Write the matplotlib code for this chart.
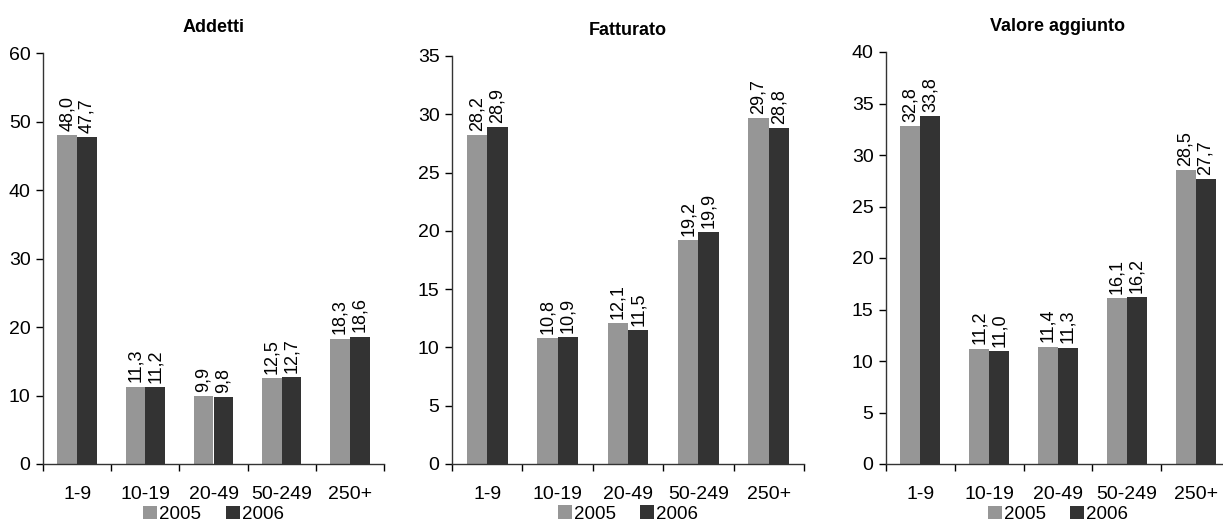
import numpy as np
import matplotlib.pyplot as plt

plt.rcParams['font.family'] = ['Liberation Sans', 'DejaVu Sans']

classi = ["1-9", "10-19", "20-49", "50-249", "250+"]
anni = ["2005", "2006"]

addetti_2005 = [48.0, 11.3, 9.9, 12.5, 18.3]
addetti_2006 = [47.7, 11.2, 9.8, 12.7, 18.6]
fatturato_2005 = [28.2, 10.8, 12.1, 19.2, 29.7]
fatturato_2006 = [28.9, 10.9, 11.5, 19.9, 28.8]
valore_2005 = [32.8, 11.2, 11.4, 16.1, 28.5]
valore_2006 = [33.8, 11.0, 11.3, 16.2, 27.7]

titoli = ["Addetti", "Fatturato", "Valore aggiunto"]
ymax = [60, 35, 40]
ystep = [10, 5, 5]
serie = [(addetti_2005, addetti_2006), (fatturato_2005, fatturato_2006), (valore_2005, valore_2006)]

col_2005 = "#969696"
col_2006 = "#333333"

W, H = 1223, 525
fig = plt.figure(figsize=(W / 100, H / 100), dpi=100)

# pixel boxes: left, right, top(y of max), bottom(y of 0)
boxes = [(43, 384, 53, 464), (452, 804, 56, 464), (886, 1230, 52, 464)]

bw = 0.29
for k in range(3):
    l, r, t, b = boxes[k]
    ax = fig.add_axes([l / W, 1 - b / H, (r - l) / W, (b - t) / H])
    a, c = serie[k]
    x = np.arange(len(classi))
    b1 = ax.bar(x - bw / 2, a, bw, color=col_2005, label=anni[0])
    b2 = ax.bar(x + bw / 2, c, bw, color=col_2006, label=anni[1])
    for bars, vals in ((b1, a), (b2, c)):
        for rect, v in zip(bars, vals):
            ax.annotate(("%.1f" % v).replace(".", ","),
                        (rect.get_x() + rect.get_width() / 2, rect.get_height()),
                        xytext=(0, 3), textcoords="offset points",
                        rotation=90, ha="center", va="bottom", fontsize=13)
    ax.set_xlim(-0.5, 4.5)
    ax.set_ylim(0, ymax[k])
    ax.set_yticks(np.arange(0, ymax[k] + 1, ystep[k]))
    ax.set_xticks(x)
    ax.set_xticklabels(classi, fontsize=14)
    ax.set_xticks(np.arange(-0.5, 5, 1), minor=True)
    ax.tick_params(axis="x", which="major", length=0, pad=16)
    ax.tick_params(axis="x", which="minor", length=5, width=1, direction="out")
    ax.tick_params(axis="y", labelsize=14, length=5, width=1, direction="out", pad=4)
    for s in ("top", "right"):
        ax.spines[s].set_visible(False)
    ax.spines["left"].set_linewidth(1)
    ax.spines["bottom"].set_linewidth(1)
    ax.spines["left"].set_color("#333333")
    ax.spines["bottom"].set_color("#333333")
    ax.set_title(titoli[k], fontsize=13, fontweight="bold", pad=15)
    ax.legend(loc="upper center", bbox_to_anchor=(0.5, -0.101), ncol=2, frameon=False,
              fontsize=13.5, handlelength=0.75, handleheight=0.75, handletextpad=0.1,
              columnspacing=1.3, borderpad=0, borderaxespad=0)

fig.savefig("out.png", dpi=100)
